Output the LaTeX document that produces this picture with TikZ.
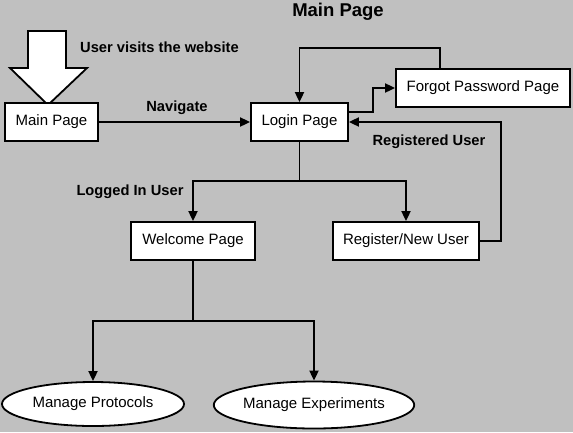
\documentclass[tikz,border=0pt]{standalone}
\usepackage{fontspec}
\setmainfont{Liberation Sans}
\usetikzlibrary{arrows.meta,shapes.geometric}
\definecolor{bg}{HTML}{C0C0C0}
\begin{document}
\begin{tikzpicture}[x=1pt,y=-1pt,
  box/.style={draw, line width=1.8pt, fill=white, rectangle, inner sep=0pt, minimum height=38pt, font=\fontsize{15}{17}\selectfont},
  oval/.style={draw, line width=1.8pt, fill=white, ellipse, inner sep=0pt, font=\fontsize{15}{17}\selectfont},
  lbl/.style={font=\fontsize{14.7}{16}\selectfont\bfseries, inner sep=0pt},
  arr/.style={line width=1.8pt, -{Triangle[length=10pt,width=9pt]}},
  ln/.style={line width=1.8pt}]
\useasboundingbox[fill=bg] (0,0) rectangle (573,432);

\node[lbl, font=\fontsize{18.5}{20}\selectfont\bfseries] (title) at (338,12) {Main Page};

% big arrow
\draw[line width=1.8pt, fill=white, line join=miter]
  (28,31) -- (66,31) -- (66,68) -- (87,68) -- (48,105) -- (10,68) -- (28,68) -- cycle;
\node[lbl, anchor=west] (visit) at (80,47) {User visits the website};

\node[box, minimum width=93pt] (main) at (51.5,122) {Main Page};
\node[box, minimum width=97pt] (login) at (299.5,122) {Login Page};
\node[box, minimum width=174pt] (forgot) at (483,88) {Forgot Password Page};
\node[box, minimum width=124pt] (welcome) at (193,241) {Welcome Page};
\node[box, minimum width=146pt] (register) at (406,241) {Register/New User};
\node[oval, minimum width=182pt, minimum height=44pt] (prot) at (93,404) {Manage Protocols};
\node[oval, minimum width=199pt, minimum height=47pt] (exp) at (314,405) {Manage Experiments};

\node[lbl] (nav) at (177,108) {Navigate};
\node[lbl] (reg) at (429,142) {Registered User};
\node[lbl] (logged) at (130,192) {Logged In User};

\draw[arr] (main.east) -- (login.west);
\draw[arr] ([yshift=10pt]login.east) -- ++(24,0) |- (forgot.west);
\draw[arr] ([xshift=-43pt]forgot.north) -- ++(0,-20) -| (login.north);
\draw[arr] (register.east) -- ++(21,0) |- (login.east);

\coordinate (b1) at (login.south |- 0,181);
\draw[ln] (login.south) -- (b1);
\draw[arr] (b1) -| (welcome.north);
\draw[arr] (b1) -| (register.north);

\coordinate (b2) at (welcome.south |- 0,321);
\draw[ln] (welcome.south) -- (b2);
\draw[arr] (b2) -| (prot.north);
\draw[arr] (b2) -| (exp.north);
\end{tikzpicture}
\end{document}
